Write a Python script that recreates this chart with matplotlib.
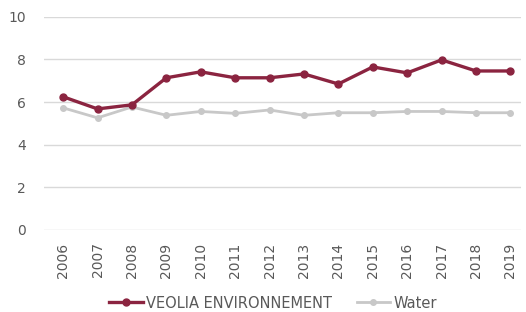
import matplotlib
matplotlib.use("Agg")
import matplotlib.pyplot as plt

years = ["2006", "2007", "2008", "2009", "2010", "2011", "2012",
         "2013", "2014", "2015", "2016", "2017", "2018", "2019"]
veolia = [6.25, 5.68, 5.87, 7.14, 7.42, 7.14, 7.14, 7.32, 6.85, 7.65, 7.37, 7.98, 7.46, 7.46]
water = [5.73, 5.26, 5.77, 5.38, 5.56, 5.47, 5.63, 5.38, 5.50, 5.50, 5.56, 5.56, 5.50, 5.50]

fig = plt.figure(figsize=(5.26, 3.12), dpi=100)
ax = fig.add_axes([0.084, 0.263, 0.906, 0.683])

x = range(len(years))
ax.plot(x, veolia, color="#8b2440", lw=2.4, marker="o", ms=5, label="VEOLIA ENVIRONNEMENT", zorder=3)
ax.plot(x, water, color="#c8c8c8", lw=2.0, marker="o", ms=4, label="Water", zorder=2)

ax.set_ylim(0, 10)
ax.set_yticks([0, 2, 4, 6, 8, 10])
ax.set_xlim(-0.55, len(years) - 0.7)
ax.set_xticks(list(x))
ax.set_xticklabels(years, rotation=90)
ax.grid(axis="y", color="#d9d9d9", lw=1)
ax.set_axisbelow(True)
for s in ax.spines.values():
    s.set_visible(False)
ax.tick_params(length=0, colors="#595959", labelsize=10)
ax.tick_params(axis="y", pad=13)
ax.tick_params(axis="x", pad=9)

ax.legend(loc="center", bbox_to_anchor=(0.48, -0.343), ncol=2, frameon=False,
          fontsize=10.5, labelcolor="#595959", handlelength=2.3, handletextpad=0.2,
          columnspacing=1.7)

fig.savefig("out.png", dpi=100)
